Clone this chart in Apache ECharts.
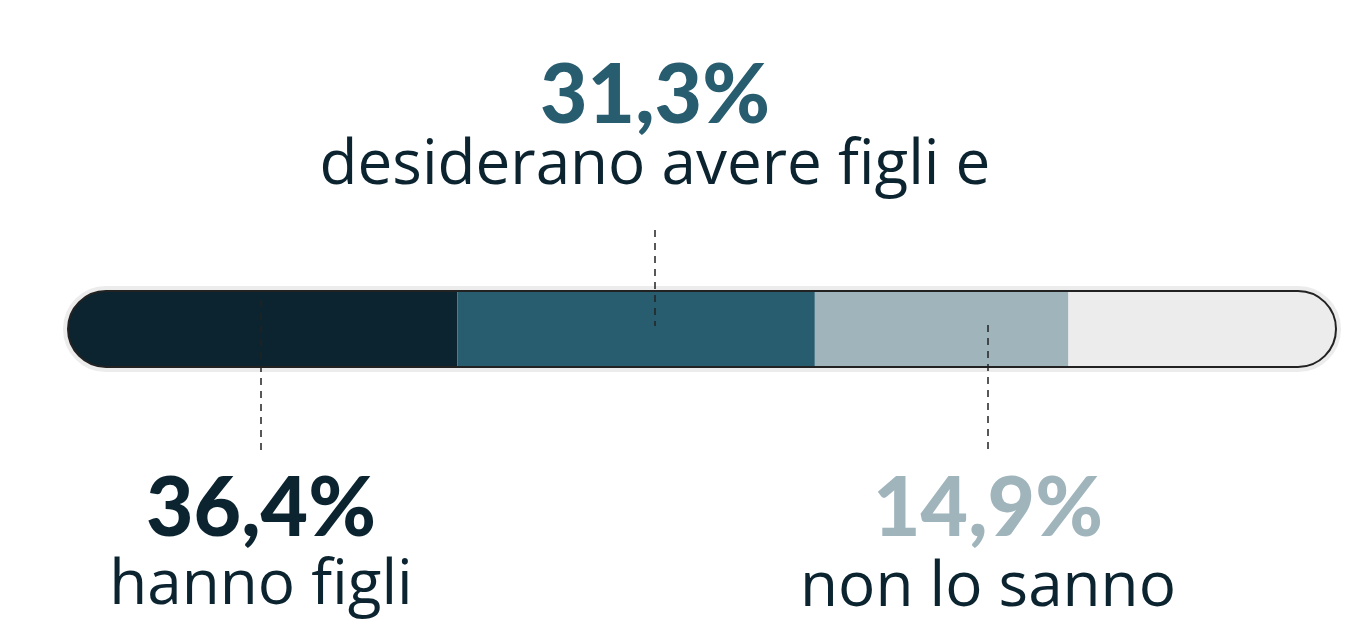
<!DOCTYPE html>
<html><head><meta charset="utf-8">
<script src="https://cdn.jsdelivr.net/npm/echarts@6/dist/echarts.min.js"></script>
<style>html,body{margin:0;padding:0;background:#fff}#c{width:1371px;height:644px}</style>
</head><body><div id="c"></div>
<script>
const categories = ['hanno figli','desiderano avere figli e','non lo sanno','altro'];
const barValues = [30.7, 28.2, 20.0, 21.1];
const pctLabels = ['36,4%','31,3%','14,9%'];
const colors = ['#0b2430','#285c6f','#a0b4bc','#ececec'];
const chart = echarts.init(document.getElementById('c'));
const total = barValues.reduce((a,b)=>a+b,0);
const series = barValues.map((v,i)=>({
  type:'bar', stack:'s', name:categories[i], data:[v], barWidth:76,
  itemStyle:{color:colors[i], borderRadius: i===0?[38,0,0,38]:(i===barValues.length-1?[0,38,38,0]:0)},
  silent:true
}));
function txt(x,y,s,size,weight,color,fam){return {type:'text',x:x,y:y,style:{text:s,fontSize:size,fontWeight:weight,fontFamily:fam,fill:color,align:'center',verticalAlign:'middle'},z:10};}
function dash(x,y1,y2){return {type:'line',shape:{x1:x,y1:y1,x2:x,y2:y2},style:{stroke:'#222',lineWidth:1.5,lineDash:[7,6]},z:20};}
const NUM='Lato', LAB='Open Sans';
chart.setOption({
  animation:false,
  grid:{left:68,right:35,top:291,height:76},
  xAxis:{type:'value',min:0,max:total,show:false},
  yAxis:{type:'category',data:['a'],show:false},
  series:series,
  graphic:[
    {type:'rect',shape:{x:66,y:289,width:1272,height:80,r:40},style:{fill:'none',stroke:'#ececec',lineWidth:6},z:-1},
    {type:'rect',shape:{x:68,y:291,width:1268,height:76,r:38},style:{fill:'none',stroke:'#222',lineWidth:2},z:15},
    dash(655,230,326), dash(261,300,453), dash(988,325,453),
    txt(655,97,pctLabels[1],82,900,'#285c6f',NUM),
    txt(655,166,categories[1],62,400,'#0b2430',LAB),
    txt(261,510,pctLabels[0],82,900,'#0b2430',NUM),
    txt(261,586,categories[0],62,400,'#0b2430',LAB),
    txt(988,510,pctLabels[2],82,900,'#a0b4bc',NUM),
    txt(988,588,categories[2],62,400,'#0b2430',LAB)
  ]
});
</script></body></html>
